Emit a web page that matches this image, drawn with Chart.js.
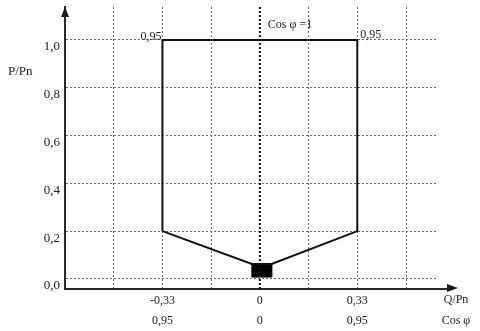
<!DOCTYPE html>
<html><head><meta charset="utf-8">
<script src="https://cdn.jsdelivr.net/npm/chart.js@4/dist/chart.umd.min.js"></script>
<style>html,body{margin:0;padding:0;background:#fff}#wrap{width:480px;height:331px;position:relative}</style>
</head><body><div id="wrap"><canvas id="c"></canvas></div>
<script>
// ---- data ----
const polyQ = [-0.33, -0.33, 0.33, 0.33, 0.040, -0.027, -0.33];
const polyP = [0.2, 1.0, 1.0, 0.2, 0.063, 0.063, 0.2];
const rectQ = [-0.027, 0.040, 0.040, -0.027, -0.027];
const rectP = [0.063, 0.063, 0.008, 0.008, 0.063];
const cosLineQ = [0, 0];
const cosLineP = [-0.042, 1.138];
const xGridVals = [-0.495, -0.33, -0.165, 0, 0.165, 0.33, 0.495];
const xLabelVals = [-0.33, 0, 0.33];
const xLabelTop = ['-0,33', '0', '0,33'];
const xLabelBottom = ['0,95', '0', '0,95'];
const yTickVals = [0, 0.2, 0.4, 0.6, 0.8, 1.0];
const yTickLabels = ['0,0', '0,2', '0,4', '0,6', '0,8', '1,0'];
const cornerLabels = ['0,95', '0,95'];
const cosLabel = 'Cos φ =1';
const yTitle = 'P/Pn';
const xTitle = ['Q/Pn', 'Cos φ'];

const FONT = "'Liberation Serif', 'Times New Roman', serif";
const TXT = '#1c1c1c';
const pts = (qs, ps) => qs.map((q, i) => ({x: q, y: ps[i]}));

const decor = {
  id: 'decor',
  afterDraw(chart) {
    const {ctx, chartArea: a, scales: {x, y}} = chart;
    ctx.save();
    ctx.fillStyle = '#1a1a1a';
    ctx.strokeStyle = '#2a2a2a';
    // y-axis arrow head
    ctx.beginPath();
    ctx.moveTo(a.left, a.top);
    ctx.lineTo(a.left - 4, a.top + 10);
    ctx.lineTo(a.left + 4, a.top + 10);
    ctx.closePath(); ctx.fill();
    // x-axis extension + arrow head
    ctx.lineWidth = 2;
    ctx.beginPath(); ctx.moveTo(a.right - 1, a.bottom); ctx.lineTo(a.right + 12, a.bottom); ctx.stroke();
    ctx.beginPath();
    ctx.moveTo(a.right + 21, a.bottom - 1);
    ctx.lineTo(a.right + 10, a.bottom - 5);
    ctx.lineTo(a.right + 10, a.bottom + 3);
    ctx.closePath(); ctx.fill();
    // texts
    ctx.fillStyle = TXT;
    ctx.textBaseline = 'middle';
    ctx.font = "13px " + FONT;
    ctx.textAlign = 'left';
    ctx.fillText(yTitle, 8, 72);
    ctx.font = "12px " + FONT;
    ctx.textAlign = 'right';
    ctx.fillText(cornerLabels[0], x.getPixelForValue(-0.33) - 1, y.getPixelForValue(1.0) - 3);
    ctx.textAlign = 'left';
    ctx.fillText(cornerLabels[1], x.getPixelForValue(0.33) + 3, y.getPixelForValue(1.0) - 5);
    ctx.fillText(cosLabel, x.getPixelForValue(0) + 8, 25);
    ctx.textAlign = 'center';
    ctx.fillText(xTitle[0], a.right + 19, 300);
    ctx.fillText(xTitle[1], a.right + 19, 321);
    ctx.restore();
  }
};

const gridCommon = {color: '#6a6a6a', lineWidth: 1, drawTicks: false};
const borderCommon = {display: true, color: '#2a2a2a', width: 2, dash: [2, 2]};

new Chart(document.getElementById('c'), {
  type: 'scatter',
  data: {
    datasets: [
      {data: pts(cosLineQ, cosLineP), showLine: true, borderColor: '#111', borderWidth: 2,
       borderDash: [2, 2], pointRadius: 0, fill: false},
      {data: pts(polyQ, polyP), showLine: true, borderColor: '#111', borderWidth: 2,
       pointRadius: 0, fill: false, tension: 0},
      {data: pts(rectQ, rectP), showLine: true, borderColor: '#000', backgroundColor: '#000',
       borderWidth: 1, pointRadius: 0, fill: 'shape', tension: 0}
    ]
  },
  options: {
    responsive: true, maintainAspectRatio: false, animation: false,
    layout: {padding: {top: 7, right: 43, left: 0, bottom: 0}},
    plugins: {legend: {display: false}, tooltip: {enabled: false}},
    scales: {
      x: {
        type: 'linear', min: -0.66, max: 0.6,
        afterBuildTicks: s => { s.ticks = xGridVals.map(v => ({value: v})); },
        afterFit: s => { s.height = 42; s.paddingLeft = 0; s.paddingRight = 0; },
        grid: gridCommon, border: borderCommon,
        ticks: {
          autoSkip: false, maxRotation: 0, minRotation: 0, padding: 2, color: TXT,
          font: {family: FONT, size: 12, lineHeight: '20px'},
          callback: (v) => {
            const i = xLabelVals.findIndex(q => Math.abs(q - v) < 1e-6);
            return i < 0 ? '' : [xLabelTop[i], xLabelBottom[i]];
          }
        }
      },
      y: {
        type: 'linear', min: -0.042, max: 1.138,
        afterBuildTicks: s => { s.ticks = yTickVals.map(v => ({value: v})); },
        afterFit: s => { s.width = 65; s.paddingTop = 0; s.paddingBottom = 0; },
        grid: gridCommon, border: borderCommon,
        ticks: {
          autoSkip: false, padding: 5, labelOffset: 7, color: TXT,
          font: {family: FONT, size: 13},
          callback: (v, i) => yTickLabels[i]
        }
      }
    }
  },
  plugins: [decor]
});
</script>
</body></html>
